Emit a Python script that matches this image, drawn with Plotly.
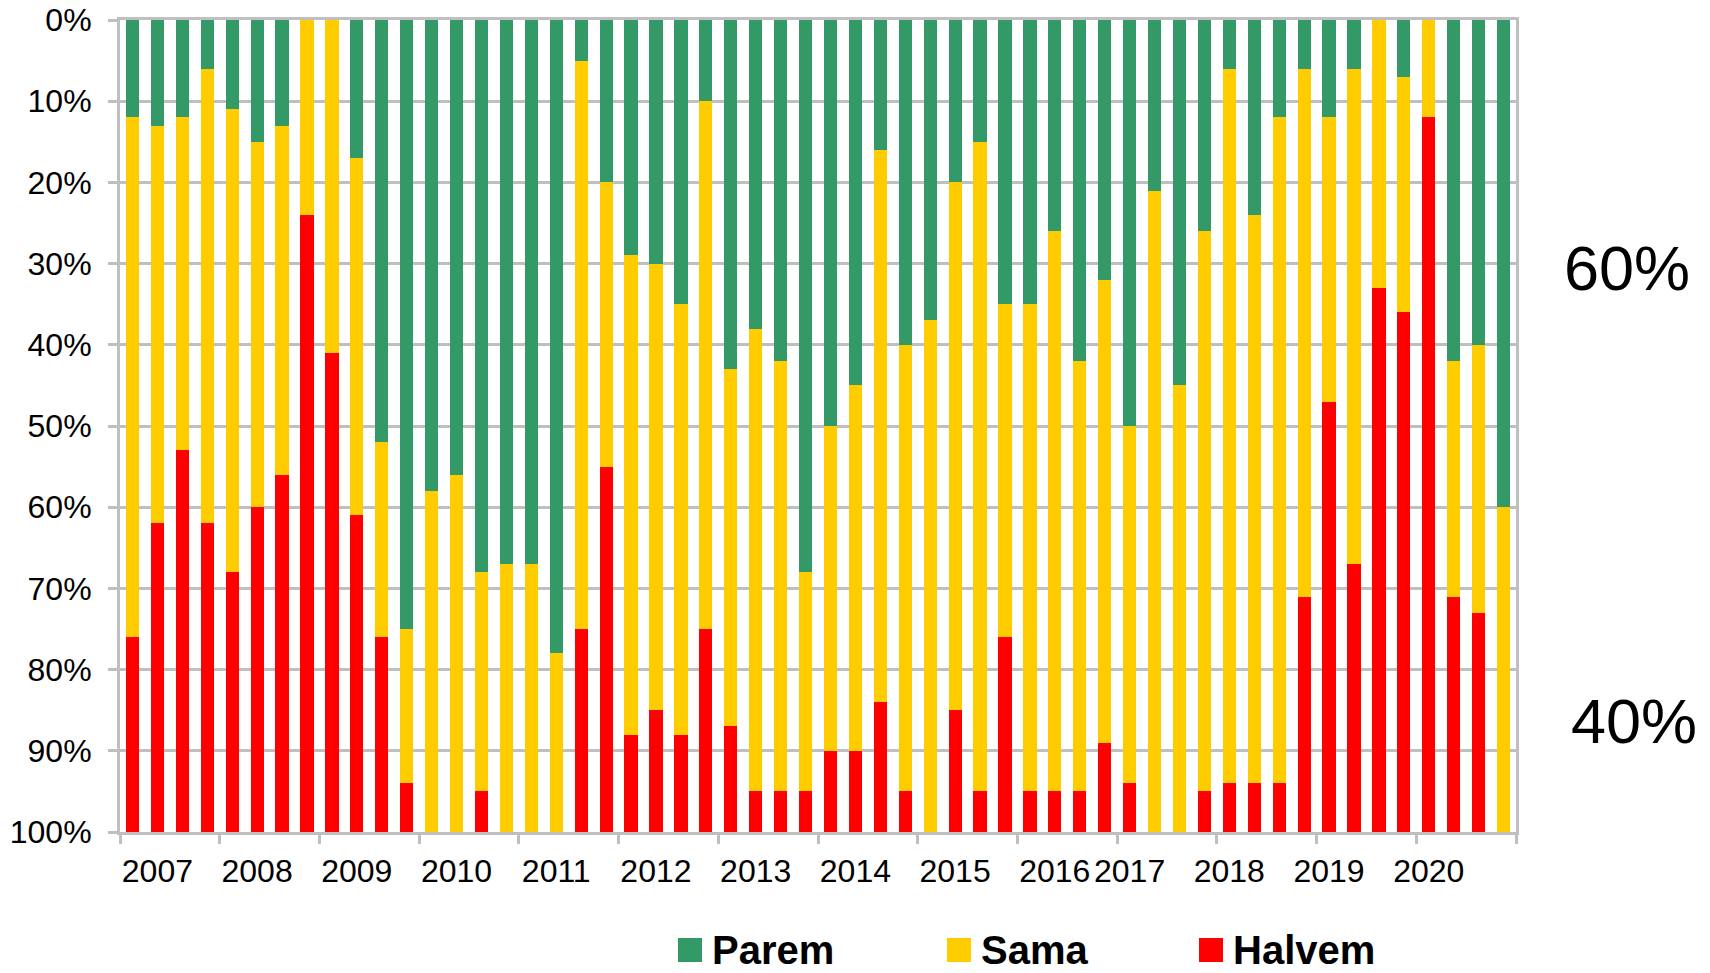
import plotly.graph_objects as go

# ---- data (percent of respondents per quarter) ----
years = ["2007", "2008", "2009", "2010", "2011", "2012", "2013",
         "2014", "2015", "2016", "2017", "2018", "2019", "2020"]
quarters = [f"{y} Q{q}" for y in years for q in range(1, 5)]

parem = [12, 13, 12, 6, 11, 15, 13, 0, 0, 17, 52, 75, 58, 56, 68, 67,
         67, 78, 5, 20, 29, 30, 35, 10, 43, 38, 42, 68, 50, 45, 16, 40,
         37, 20, 15, 35, 35, 26, 42, 32, 50, 21, 45, 26, 6, 24,
         12, 6, 12, 6, 0, 7, 0, 42, 40, 60]
sama = [64, 49, 41, 56, 57, 45, 43, 24, 41, 44, 24, 19, 42, 44, 27, 33,
        33, 22, 70, 35, 59, 55, 53, 65, 44, 57, 53, 27, 40, 45, 68, 55,
        63, 65, 80, 41, 60, 69, 53, 57, 44, 79, 55, 69, 88, 70,
        82, 65, 35, 61, 33, 29, 12, 29, 33, 40]
halvem = [24, 38, 47, 38, 32, 40, 44, 76, 59, 39, 24, 6, 0, 0, 5, 0,
          0, 0, 25, 45, 12, 15, 12, 25, 13, 5, 5, 5, 10, 10, 16, 5,
          0, 15, 5, 24, 5, 5, 5, 11, 6, 0, 0, 5, 6, 6,
          6, 29, 53, 33, 67, 64, 88, 29, 27, 0]

# bar index at which each year label is printed
label_bars = [1, 5, 9, 13, 17, 21, 25, 29, 33, 37, 40, 44, 48, 52]

y_ticks = list(range(0, 101, 10))
y_ticktext = [f"{v}%" for v in y_ticks]

series = [("Parem", parem, "#339966"),
          ("Sama", sama, "#FFCC00"),
          ("Halvem", halvem, "#FF0000")]

FONT = "Liberation Sans, Arial, sans-serif"
GRID = "#BFBFBF"

x = list(range(len(quarters)))

fig = go.Figure()
for name, vals, col in series:
    fig.add_trace(go.Bar(
        x=x, y=vals, name=name, customdata=quarters,
        marker=dict(color=col, line=dict(width=0)),
        showlegend=False,
        hovertemplate="%{customdata}: %{y}%<extra>" + name + "</extra>",
    ))

W, H = 1710, 973
ML, MR, MT, MB = 120, 194, 20, 141
PW, PH = W - ML - MR, H - MT - MB


def px_x(px):
    return (px - ML) / PW


def px_y(py):
    return (H - MB - py) / PH


# custom legend (squares + bold labels) below the plot
legend_items = [("Parem", "#339966", 678), ("Sama", "#FFCC00", 947),
                ("Halvem", "#FF0000", 1199)]
shapes = []
annotations = []
for name, col, x0 in legend_items:
    shapes.append(dict(type="rect", xref="paper", yref="paper",
                       x0=px_x(x0), x1=px_x(x0 + 24),
                       y0=px_y(962), y1=px_y(938),
                       fillcolor=col, line=dict(width=0)))
    annotations.append(dict(xref="paper", yref="paper",
                            x=px_x(x0 + 32), y=px_y(950),
                            xanchor="left", yanchor="middle",
                            text=f"<b>{name}</b>", showarrow=False,
                            font=dict(family=FONT, size=40, color="#000000")))

annotations.append(dict(xref="paper", yref="paper", x=px_x(1627), y=px_y(268),
                        xanchor="center", yanchor="middle", text="60%",
                        showarrow=False,
                        font=dict(family=FONT, size=63, color="#000000")))
annotations.append(dict(xref="paper", yref="paper", x=px_x(1634), y=px_y(721),
                        xanchor="center", yanchor="middle", text="40%",
                        showarrow=False,
                        font=dict(family=FONT, size=63, color="#000000")))

fig.update_layout(
    barmode="stack",
    bargap=0.47,
    width=W, height=H,
    margin=dict(l=ML, r=MR, t=MT, b=MB, pad=0),
    paper_bgcolor="white",
    plot_bgcolor="white",
    font=dict(family=FONT, size=32, color="#000000"),
    shapes=shapes,
    annotations=annotations,
    showlegend=False,
)

fig.update_xaxes(
    range=[-0.5, len(quarters) - 0.5],
    automargin=False,
    tickmode="array",
    tickvals=label_bars,
    ticktext=years,
    ticks="",
    ticklabelstandoff=9,
    tickfont=dict(family=FONT, size=32, color="#000000"),
    showgrid=False,
    zeroline=False,
    showline=True, linecolor=GRID, linewidth=3, mirror=True,
    minor=dict(tickmode="array",
               tickvals=[i - 0.5 for i in range(0, len(quarters) + 1, 4)],
               ticks="outside", ticklen=9, tickwidth=3, tickcolor=GRID,
               showgrid=False),
)

fig.update_yaxes(
    range=[100, 0],
    autorange=False,
    automargin=False,
    tickmode="array",
    tickvals=y_ticks,
    ticktext=y_ticktext,
    ticks="outside", ticklen=9, tickwidth=3, tickcolor=GRID,
    ticklabelstandoff=10,
    tickfont=dict(family=FONT, size=32, color="#000000"),
    showgrid=True, gridcolor=GRID, gridwidth=2.5,
    zeroline=False,
    showline=True, linecolor=GRID, linewidth=3, mirror=True,
)

fig.write_html("out.html",
               config={"displayModeBar": False},
               post_script="document.body.style.margin='0';"
                           "document.body.style.overflow='hidden';")
